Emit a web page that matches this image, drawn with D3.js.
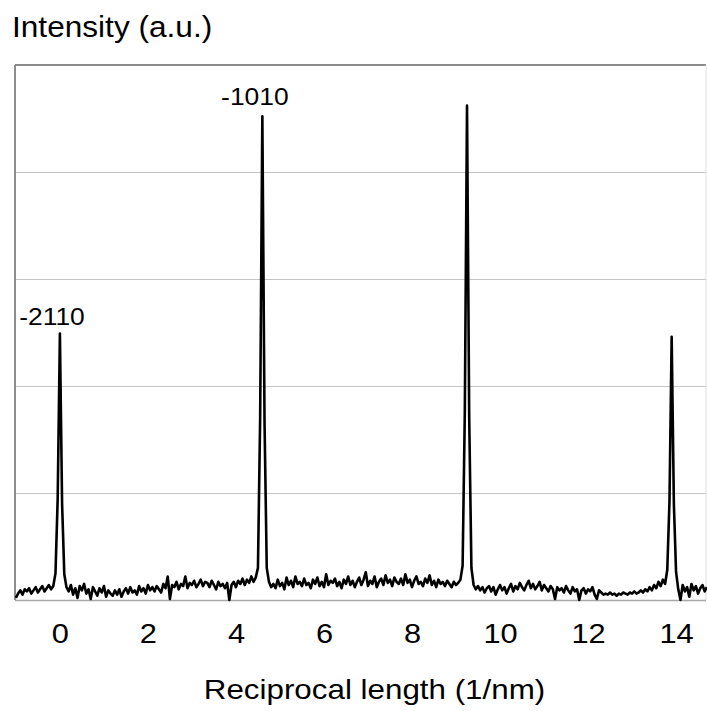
<!DOCTYPE html>
<html>
<head>
<meta charset="utf-8">
<script src="https://cdn.jsdelivr.net/npm/d3@7/dist/d3.min.js"></script>
<style>
  html, body { margin: 0; padding: 0; background: #fff; }
  svg { display: block; }
  text { font-family: Arial, "Liberation Sans", sans-serif; fill: #000; }
</style>
</head>
<body>
<svg id="chart" width="707" height="711"></svg>
<script>
// ---- data ----
const xStart = -1.0;          // first sample (1/nm)
const xStep = 0.05;           // sampling interval (1/nm)
const intensity = [
  0.02, 0.06, 0.09, 0.05, 0.10, 0.08, 0.11, 0.06, 0.09, 0.12, 0.07, 0.10, 0.13, 0.08, 0.11, 0.14, 0.10, 0.13,
  0.25, 0.95, 2.49, 0.90, 0.24,
  0.12, 0.08, 0.14, 0.05, 0.11, 0.02, 0.13, 0.09, 0.15, 0.06, 0.10, 0.01, 0.12, 0.08, 0.04, 0.11, 0.07, 0.13, 0.03, 0.09,
  0.06, 0.04, 0.09, 0.05, 0.10, 0.03, 0.08, 0.11, 0.06, 0.12, 0.07, 0.09, 0.05, 0.13, 0.08, 0.11, 0.06, 0.14, 0.09, 0.12,
  0.08, 0.13, 0.10, 0.07, 0.15, 0.11, 0.22, 0.01, 0.14, 0.12, 0.17, 0.10, 0.15, 0.13, 0.22, 0.11, 0.16, 0.14, 0.18, 0.12,
  0.15, 0.19, 0.13, 0.17, 0.16, 0.12, 0.18, 0.14, 0.10, 0.17, 0.13, 0.15, 0.11, 0.16, 0.00, 0.14, 0.17, 0.12, 0.18, 0.15,
  0.20, 0.14, 0.19, 0.16, 0.22, 0.17, 0.21,
  0.30, 1.70, 4.52, 1.65, 0.30,
  0.17, 0.12, 0.15, 0.11, 0.19, 0.13, 0.16, 0.10, 0.21, 0.14, 0.18, 0.12, 0.22, 0.15, 0.17, 0.13, 0.20, 0.14, 0.16, 0.11,
  0.19, 0.15, 0.21, 0.13, 0.17, 0.12, 0.24, 0.14, 0.18, 0.16, 0.20, 0.13, 0.17, 0.11, 0.19, 0.15, 0.22, 0.14, 0.18, 0.12,
  0.17, 0.21, 0.14, 0.19, 0.26, 0.13, 0.18, 0.15, 0.22, 0.12, 0.17, 0.20, 0.14, 0.23, 0.16, 0.19, 0.13, 0.21, 0.17, 0.15,
  0.20, 0.14, 0.24, 0.16, 0.19, 0.12, 0.18, 0.22, 0.15, 0.17, 0.13, 0.20, 0.16, 0.23, 0.14, 0.18, 0.12, 0.19, 0.15, 0.17,
  0.13, 0.18, 0.15, 0.12, 0.17, 0.14, 0.16, 0.19,
  0.32, 1.75, 4.62, 1.70, 0.30,
  0.14, 0.10, 0.13, 0.09, 0.12, 0.07, 0.11, 0.13, 0.08, 0.12, 0.05, 0.10, 0.14, 0.09, 0.12, 0.06, 0.11, 0.15, 0.08, 0.13,
  0.10, 0.16, 0.12, 0.09, 0.14, 0.18, 0.11, 0.15, 0.10, 0.13, 0.17, 0.09, 0.14, 0.11, 0.08, 0.13, 0.10, 0.01, 0.12, 0.09,
  0.11, 0.07, 0.13, 0.09, 0.06, 0.12, 0.08, 0.10, 0.00, 0.09, 0.11, 0.06, 0.10, 0.08, 0.12, 0.05, 0.01, 0.09, 0.07, 0.05,
  0.06, 0.05, 0.07, 0.05, 0.06, 0.04, 0.06, 0.05, 0.07, 0.06, 0.05, 0.07, 0.06, 0.08, 0.06, 0.07, 0.09, 0.07, 0.10, 0.08, 0.12, 0.09,
  0.14, 0.11, 0.17, 0.13, 0.19, 0.15,
  0.28, 0.92, 2.46, 0.90, 0.26,
  0.10, 0.00, 0.14, 0.08, 0.12, 0.03, 0.15, 0.09, 0.13, 0.06, 0.11, 0.14, 0.08, 0.12
];
const xTicks = [0, 2, 4, 6, 8, 10, 12, 14];
const yGrid = [1, 2, 3, 4];
const peakLabels = ["-2110", "-1010"];
const peakLabelX = [-0.18, 4.43];
const peakLabelY = [2.5, 4.55];
const yTitle = "Intensity (a.u.)";
const xTitle = "Reciprocal length (1/nm)";

// ---- layout ----
const svg = d3.select("#chart");
const L = 15, R = 706, T = 65, B = 600;
const x = d3.scaleLinear().domain([-1.02, 14.68]).range([L, R]);
const y = d3.scaleLinear().domain([0, 5]).range([B, T]);

// gridlines
svg.append("g").selectAll("line").data(yGrid).join("line")
  .attr("x1", L).attr("x2", R)
  .attr("y1", d => Math.round(y(d)) + 0.5).attr("y2", d => Math.round(y(d)) + 0.5)
  .attr("stroke", "#c4c4c4").attr("stroke-width", 1);

// frame
svg.append("line").attr("x1", L).attr("x2", R).attr("y1", T).attr("y2", T)
  .attr("stroke", "#8c8c8c").attr("stroke-width", 2);
svg.append("line").attr("x1", L).attr("x2", L).attr("y1", T).attr("y2", B)
  .attr("stroke", "#8c8c8c").attr("stroke-width", 2);
svg.append("line").attr("x1", R).attr("x2", R).attr("y1", T).attr("y2", B)
  .attr("stroke", "#e0e0e0").attr("stroke-width", 1);

// x axis (line + labels)
const xAxis = d3.axisBottom(x).tickValues(xTicks).tickSize(0).tickPadding(0).tickFormat(d3.format("d"));
const gx = svg.append("g").attr("transform", `translate(0,${B})`).call(xAxis);
gx.select(".domain").attr("d", `M${L},0.5H${R}`).attr("stroke", "#a8a8a8").attr("stroke-width", 1.5);
gx.selectAll(".tick text")
  .attr("y", 0).attr("dy", 0)
  .attr("font-size", 28)
  .attr("fill", "#000")
  .attr("font-family", "Arial, 'Liberation Sans', sans-serif")
  .attr("text-anchor", "middle")
  .attr("transform", "translate(0,43) scale(1.1,1)");

// data line
const line = d3.line()
  .x((d, i) => x(xStart + i * xStep))
  .y(d => y(d));
svg.append("path").datum(intensity)
  .attr("d", line)
  .attr("fill", "none")
  .attr("stroke", "#000")
  .attr("stroke-width", 2.6)
  .attr("stroke-linejoin", "round");

// peak labels
svg.append("g").selectAll("text").data(peakLabels).join("text")
  .attr("transform", (d, i) => `translate(${x(peakLabelX[i])},${y(peakLabelY[i]) - 8}) scale(1.1,1)`)
  .attr("text-anchor", "middle")
  .attr("font-size", 24)
  .text(d => d);

// titles
svg.append("text")
  .attr("transform", "translate(12,37) scale(1.09,1)")
  .attr("font-size", 29)
  .text(yTitle);
svg.append("text")
  .attr("transform", `translate(${(203 + 546) / 2},699) scale(1.12,1)`)
  .attr("text-anchor", "middle")
  .attr("font-size", 28)
  .text(xTitle);
</script>
</body>
</html>
